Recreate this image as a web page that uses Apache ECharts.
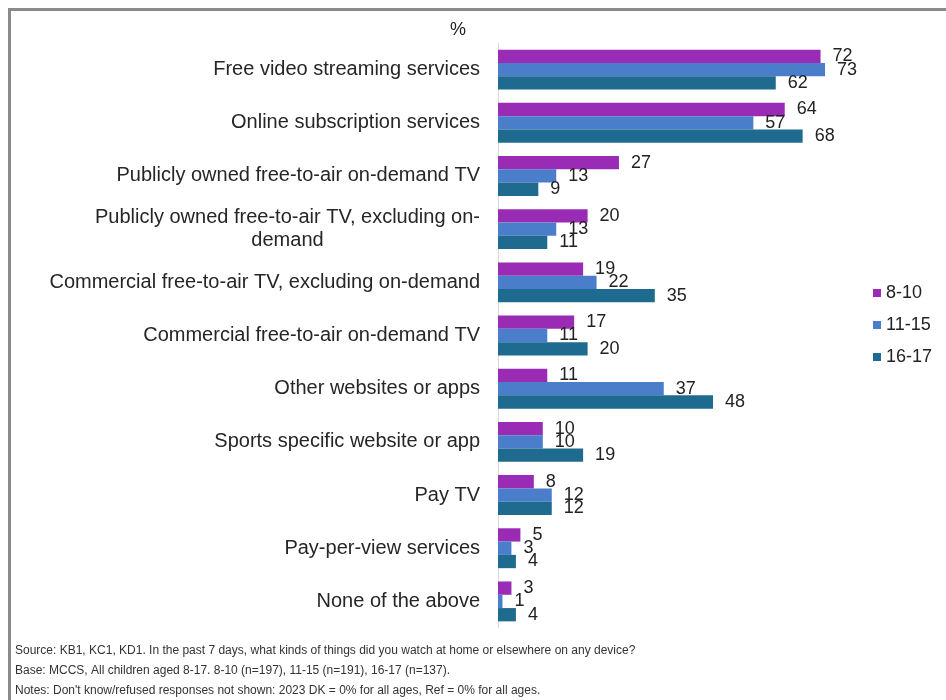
<!DOCTYPE html>
<html>
<head>
<meta charset="utf-8">
<script src="https://cdn.jsdelivr.net/npm/echarts@6/dist/echarts.min.js"></script>
<style>
  html, body { margin: 0; padding: 0; background: #ffffff; }
  #chart { width: 946px; height: 700px; }
</style>
</head>
<body>
<div id="chart"></div>
<script>
// Kinds of content watched in the past 7 days, by age group (%)
const categories = [
  'Free video streaming services',
  'Online subscription services',
  'Publicly owned free-to-air on-demand TV',
  'Publicly owned free-to-air TV, excluding on-\ndemand',
  'Commercial free-to-air TV, excluding on-demand',
  'Commercial free-to-air on-demand TV',
  'Other websites or apps',
  'Sports specific website or app',
  'Pay TV',
  'Pay-per-view services',
  'None of the above'
];
const seriesNames = ['8-10', '11-15', '16-17'];
const age8to10  = [72, 64, 27, 20, 19, 17, 11, 10, 8, 5, 3];
const age11to15 = [73, 57, 13, 13, 22, 11, 37, 10, 12, 3, 1];
const age16to17 = [62, 68, 9, 11, 35, 20, 48, 19, 12, 4, 4];
const footnotes = [
  'Source: KB1, KC1, KD1. In the past 7 days, what kinds of things did you watch at home or elsewhere on any device?',
  'Base: MCCS, All children aged 8-17. 8-10 (n=197), 11-15 (n=191), 16-17 (n=137).',
  "Notes: Don't know/refused responses not shown: 2023 DK = 0% for all ages, Ref = 0% for all ages."
];

const colors = ['#9a2bb5', '#4a7ecb', '#1f6b8f'];
const FONT = '"Liberation Sans", Arial, sans-serif';

const chart = echarts.init(document.getElementById('chart'), null, { renderer: 'canvas' });

function barSeries(name, data, color) {
  return {
    name: name,
    type: 'bar',
    data: data,
    barGap: '0%',
    barCategoryGap: '25%',
    itemStyle: { color: color },
    label: {
      show: true,
      position: 'right',
      distance: 12,
      color: '#222222',
      fontFamily: FONT,
      fontSize: 18
    },
    emphasis: { disabled: true },
    animation: false
  };
}

const option = {
  animation: false,
  color: colors,
  textStyle: { fontFamily: FONT },
  title: {
    text: '%',
    left: 445,
    top: 16,
    textStyle: { fontFamily: FONT, fontSize: 18, fontWeight: 'normal', color: '#222222' }
  },
  legend: {
    orient: 'vertical',
    left: 868,
    top: 279,
    icon: 'rect',
    itemWidth: 8,
    itemHeight: 8,
    itemGap: 14,
    data: seriesNames,
    textStyle: { fontFamily: FONT, fontSize: 18, color: '#222222' }
  },
  grid: {
    left: 498,
    top: 43,
    width: 448,
    height: 585,
    containLabel: false
  },
  xAxis: {
    type: 'value',
    min: 0,
    max: 100,
    show: false
  },
  yAxis: {
    type: 'category',
    data: categories,
    inverse: true,
    axisLine: { show: true, lineStyle: { color: '#d9d9d9', width: 1 } },
    axisTick: { show: false },
    splitLine: { show: false },
    axisLabel: {
      margin: 18,
      color: '#262626',
      fontFamily: FONT,
      fontSize: 20,
      lineHeight: 23,
      formatter: function (v) {
        return v.split('\n').map(function (line) { return '{c|' + line + '}'; }).join('\n');
      },
      rich: {
        c: { align: 'center', fontFamily: FONT, fontSize: 20, lineHeight: 23, color: '#262626' }
      }
    }
  },
  series: [
    barSeries(seriesNames[0], age8to10, colors[0]),
    barSeries(seriesNames[1], age11to15, colors[1]),
    barSeries(seriesNames[2], age16to17, colors[2])
  ],
  graphic: [
    {
      type: 'rect',
      shape: { x: 9.5, y: 9.5, width: 1000, height: 1000 },
      style: { fill: 'none', stroke: '#8a8a8a', lineWidth: 3 },
      silent: true,
      z: -1
    }
  ].concat(footnotes.map(function (t, i) {
    return {
      type: 'text',
      left: 15,
      top: 645 + i * 20,
      style: { text: t, fontFamily: FONT, fontSize: 12, fill: '#333333' },
      silent: true
    };
  }))
};

chart.setOption(option);
</script>
</body>
</html>
